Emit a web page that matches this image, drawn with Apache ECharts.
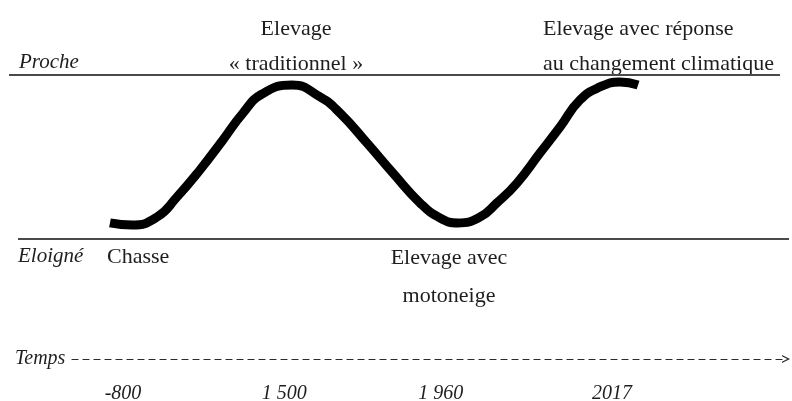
<!DOCTYPE html>
<html>
<head>
<meta charset="utf-8">
<script src="https://cdn.jsdelivr.net/npm/echarts@6/dist/echarts.min.js"></script>
<style>
html,body{margin:0;padding:0;background:#fff;}
#chart{width:792px;height:401px;}
</style>
</head>
<body>
<div id="chart"></div>
<script>
// ---- data ----
// schematic time position (phase units) and distance level (0 = Eloigné, 1 = Proche)
const curveX = [-0.080, 0.055, 0.209, 0.331, 0.472, 0.613, 0.736, 0.853, 1.037, 1.209, 1.331, 1.497, 1.656, 1.822, 1.945, 2.055, 2.190, 2.294, 2.417, 2.558, 2.681, 2.804, 2.926, 3.049, 3.160];
const curveY = [0.098, 0.085, 0.134, 0.256, 0.421, 0.604, 0.768, 0.884, 0.939, 0.866, 0.768, 0.585, 0.402, 0.220, 0.128, 0.098, 0.134, 0.220, 0.341, 0.524, 0.683, 0.848, 0.927, 0.957, 0.939];
const tickPos = [0, 0.99, 1.95, 3];
const tickLabels = ['-800', '1 500', '1 960', '2017'];
const levelLabels = ['Eloigné', 'Proche'];
const phaseLabels = ['Chasse', 'Elevage\n« traditionnel »', 'Elevage avec\nmotoneige', 'Elevage avec réponse\nau changement climatique'];
const axisTitle = 'Temps';

// ---- chart ----
const FONT = '"Liberation Serif", "Times New Roman", serif';
const TXT = '#1e1e1e';
const curve = curveX.map((x, i) => [x, curveY[i]]);

const chart = echarts.init(document.getElementById('chart'), null, {renderer: 'canvas'});
const option = {
  backgroundColor: '#ffffff',
  animation: false,
  grid: [
    {left: 0, right: 0, top: 75, height: 164, outerBoundsMode: 'none'},
    {left: 72, right: 6, top: 300, bottom: 42, outerBoundsMode: 'none', containLabel: false}
  ],
  xAxis: [
    {gridIndex: 0, type: 'value', min: -0.75460, max: 4.10429, show: false},
    {
      gridIndex: 1, type: 'value', min: -0.31288, max: 4.06748,
      axisLine: {
        show: true, onZero: false,
        lineStyle: {color: '#2a2a2a', width: 1.2, type: [6, 5]},
        symbol: ['none', 'path://M0,10 L5,0 L10,10 L8.4,10 L5,3.4 L1.6,10 Z'],
        symbolSize: [11, 8], symbolOffset: [0, 0]
      },
      axisTick: {show: false},
      splitLine: {show: false},
      axisLabel: {
        customValues: tickPos,
        formatter: v => {
          const i = tickPos.findIndex(t => Math.abs(t - v) < 1e-6);
          return i >= 0 ? tickLabels[i] : '';
        },
        margin: 25, fontFamily: FONT, fontSize: 20, fontStyle: 'italic', color: TXT
      }
    }
  ],
  yAxis: [
    {gridIndex: 0, type: 'value', min: 0, max: 1, show: false},
    {gridIndex: 1, type: 'value', min: 0, max: 1, show: false}
  ],
  series: [
    {
      type: 'line', xAxisIndex: 0, yAxisIndex: 0, symbol: 'none', silent: true,
      data: [[-0.6994, 1], [4.0307, 1]],
      lineStyle: {color: '#4a4a4a', width: 2}
    },
    {
      type: 'line', xAxisIndex: 0, yAxisIndex: 0, symbol: 'none', silent: true,
      data: [[-0.6442, 0], [4.0859, 0]],
      lineStyle: {color: '#4a4a4a', width: 2}
    },
    {
      type: 'line', xAxisIndex: 0, yAxisIndex: 0, symbol: 'none', silent: true,
      smooth: 0.5,
      data: curve,
      lineStyle: {color: '#000', width: 9, cap: 'butt', join: 'round'}
    },
    {type: 'line', xAxisIndex: 1, yAxisIndex: 1, data: [], symbol: 'none'}
  ],
  graphic: [
    {type: 'text', left: 19, top: 52, style: {text: levelLabels[1], font: 'italic 21px ' + FONT, fill: TXT}},
    {type: 'text', left: 18, top: 246, style: {text: levelLabels[0], font: 'italic 21px ' + FONT, fill: TXT}},
    {type: 'text', left: 15, top: 349, style: {text: axisTitle, font: 'italic 20px ' + FONT, fill: TXT}},
    {type: 'text', left: 107, top: 246, style: {text: phaseLabels[0], font: '22px ' + FONT, fill: TXT}},
    {type: 'text', x: 296, y: 12, style: {text: phaseLabels[1], font: '22px ' + FONT, fill: TXT, align: 'center', lineHeight: 35}},
    {type: 'text', x: 449, y: 239, style: {text: phaseLabels[2], font: '22px ' + FONT, fill: TXT, align: 'center', lineHeight: 38}},
    {type: 'text', x: 543, y: 12, style: {text: phaseLabels[3], font: '22px ' + FONT, fill: TXT, align: 'left', lineHeight: 35}}
  ]
};
chart.setOption(option);
</script>
</body>
</html>
